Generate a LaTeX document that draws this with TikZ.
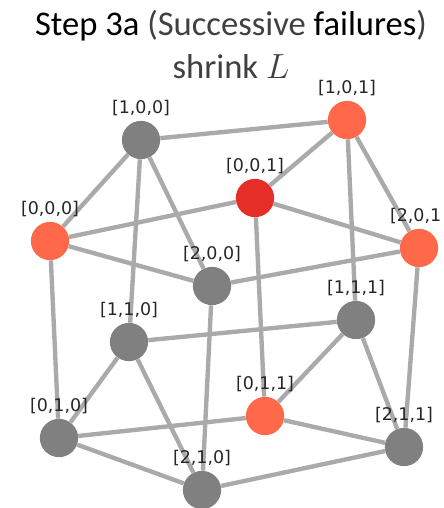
\documentclass[tikz,border=0pt]{standalone}
\usepackage{fontspec}
\setmainfont{Carlito}
\newfontfamily\labelfont{DejaVu Sans}
\usetikzlibrary{backgrounds}
\definecolor{nodegray}{HTML}{808080}
\definecolor{nodeorange}{HTML}{FF6849}
\definecolor{nodered}{HTML}{E42E27}
\definecolor{edgegray}{HTML}{AAAAAA}
\tikzset{
  vtx/.style={circle,inner sep=0pt,minimum size=27.2pt,fill=#1,
    label={[font=\labelfont\fontsize{12.4}{14}\selectfont,text=black!85,inner sep=0pt,label distance=3pt,name=\vname]above:{\vtext}}},
  link/.style={edgegray,line width=3.1pt}
}
\newcommand{\vtx}[5]{\def\vname{#2l}\def\vtext{#5}\node[vtx=#1] (#2) at (#3,#4) {};}
\begin{document}
\begin{tikzpicture}[x=0.025cm,y=-0.025cm]
  \useasboundingbox (0,0) rectangle (443,508);
  % title
  \node[font=\fontsize{24.6}{28}\selectfont,anchor=base] (title1) at (231,35) {Step 3a {\color{black!75}(Successive} failures{\color{black!75})}};
  \node[font=\fontsize{24.6}{28}\selectfont,text=black!75,anchor=base] (title2) at (231,78) {shrink $L$};

  % top layer
  \vtx{nodegray}{n100}{141}{140}{[1,0,0]}
  \vtx{nodeorange}{n101}{347}{120}{[1,0,1]}
  \vtx{nodered}{n001}{255}{198}{[0,0,1]}
  \vtx{nodeorange}{n000}{50}{241}{[0,0,0]}
  \vtx{nodeorange}{n201}{419}{248}{[2,0,1\phantom{]}}
  \vtx{nodegray}{n200}{212}{286}{[2,0,0]}

  % bottom layer
  \vtx{nodegray}{n111}{356}{320}{[1,1,1]}
  \vtx{nodegray}{n110}{129}{342}{[1,1,0]}
  \vtx{nodeorange}{n011}{265}{416}{[0,1,1]}
  \vtx{nodegray}{n010}{59}{438}{[0,1,0]}
  \vtx{nodegray}{n211}{404}{447}{[2,1,1]}
  \vtx{nodegray}{n210}{202}{490}{[2,1,0]}

  % edges
  \begin{pgfonlayer}{background}
    \foreach \a/\b in {n100/n101,n100/n000,n100/n110,n100/n200,n101/n001,n101/n111,
      n101/n201,n001/n000,n001/n201,n001/n011,n000/n200,n000/n010,n200/n201,n200/n210,
      n201/n211,n111/n110,n111/n011,n111/n211,n110/n010,n110/n210,n011/n010,n011/n211,
      n010/n210,n210/n211} {
      \draw[link] (\a) -- (\b);
    }
  \end{pgfonlayer}
\end{tikzpicture}
\end{document}
